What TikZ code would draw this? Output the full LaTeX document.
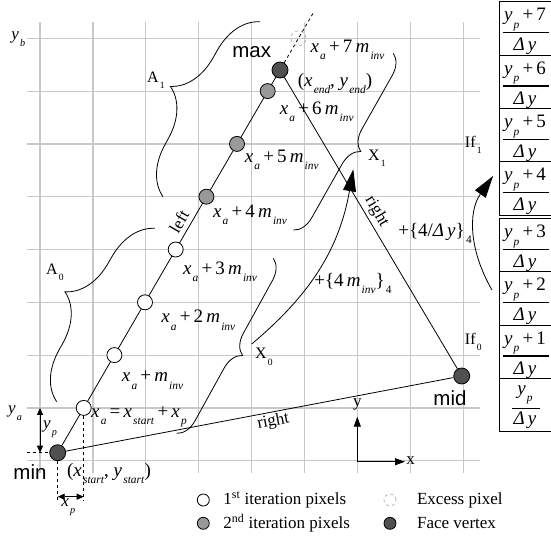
\documentclass[tikz,border=0pt]{standalone}
\usepackage{fontspec}
\setmainfont{Liberation Serif}
\setsansfont{Liberation Sans}
\usepackage{graphicx}
\usepackage{tikz}
\usetikzlibrary{arrows.meta,decorations.pathreplacing,calc}
\usepackage{xcolor}
\definecolor{GridGray}{HTML}{C8C8C8}
\definecolor{PixGray}{HTML}{999999}
\definecolor{VtxGray}{HTML}{505050}
\definecolor{ExcGray}{HTML}{B4B4B4}
\newcommand\li[1]{\kern1.2pt\raisebox{-.4em}{\scalebox{.6}{\textit{#1}}}}
\newcommand\lo[1]{\kern1.2pt\raisebox{-.4em}{\scalebox{.6}{#1}}}

\begin{document}
\begin{tikzpicture}[x=1pt,y=-1pt,line width=0.8pt,every node/.style={inner sep=0pt,font=\fontsize{19}{19}\selectfont},
    pix/.style={circle,draw,line width=0.8pt,minimum size=15pt},
    vtx/.style={pix,fill=VtxGray,minimum size=16pt},
    lgd/.style={pix,minimum size=12pt},
    small/.style={font=\fontsize{16}{16}\selectfont},
    legend/.style={font=\fontsize{17}{17}\selectfont,anchor=west},
    mid/.style={font=\fontsize{17}{17}\selectfont},
    sans/.style={font=\fontsize{20.5}{20.5}\selectfont\sffamily},
    brc/.style={decorate,decoration={brace,amplitude=#1}},
    bigarr/.style={-{Triangle[length=22pt,width=13pt]}},
    smallarr/.style={-{Triangle[length=10pt,width=7pt]}},
    dimarr/.style={{Triangle[length=7pt,width=6pt]}-{Triangle[length=7pt,width=6pt]}}]
    \useasboundingbox (0,0) rectangle (551,549);
    \foreach \i in {0,...,8}{\draw[GridGray,line width=1.2pt] (40+52.9*\i,22) -- (40+52.9*\i,473);
      \draw[GridGray,line width=1.2pt] (27,38.3+52.8*\i) -- (480,38.3+52.8*\i);}
    \node[vtx] (min) at (57.7,452.7) {};
    \node[vtx] (max) at (280,70) {};
    \node[vtx] (mid) at (461.7,376) {};
    \coordinate (top) at (313.5,12.5);
    \draw (min) -- (max) -- (mid) -- (min);
    \draw[dashed] (max) -- (top);
    \foreach \k/\px/\py in {1/83.7/407.9,2/114.4/355.1,3/145/302.3,4/175.7/249.5}{\node[pix,fill=white] (p\k) at (\px,\py) {};}
    \foreach \k/\px/\py in {5/206.4/196.7,6/237/143.9,7/267.7/91.1}{\node[pix,fill=PixGray] (p\k) at (\px,\py) {};}
    \node[pix,dashed,draw=ExcGray] (ex) at (298.4,38.3) {};
    \node[sans] (lmax) at (251.7,51.7) {max};
    \node[sans] (lmin) at (30,471.7) {min};
    \node[sans] (lmid) at (450,398.3) {mid};
    \coordinate (ya) at (26.7,452.7);
    \coordinate (yp1) at (40,407.9);
    \coordinate (yp0) at (40,452.7);
    \coordinate (xs0) at (57.7,500);
    \coordinate (xs1) at (83.7,500);
    \coordinate (xp0) at (57.7,496.7);
    \coordinate (xp1) at (83.7,496.7);
    \draw[dashed,line width=0.6pt] (ya) -- (min);
    \draw[dashed,line width=0.6pt] (min) -- (xs0);
    \draw[dashed,line width=0.6pt] (p1) -- (xs1);
    \draw[dimarr] (yp1) -- (yp0);
    \draw[dimarr] (xp0) -- (xp1);
    \node[mid] (lyb) at (18.3,39.5) {\textit{y}\li{b}};
    \node[mid] (lya) at (15,413) {\textit{y}\li{a}};
    \node[mid] (lyp) at (50,429) {\textit{y}\li{p}};
    \node[mid] (lxp) at (68.3,507) {\textit{x}\li{p}};
    \node (l7) at (347.5,50) {\textit{x}\li{a}\,+\,7\,\textit{m}\li{inv}};
    \node (lend) at (335,83.3) {(\textit{x}\li{end}, \textit{y}\li{end})};
    \node (l6) at (316.7,111.7) {\textit{x}\li{a}\,+\,6\,\textit{m}\li{inv}};
    \node (l5) at (281.7,160) {\textit{x}\li{a}\,+\,5\,\textit{m}\li{inv}};
    \node (l4) at (250,215) {\textit{x}\li{a}\,+\,4\,\textit{m}\li{inv}};
    \node (l3) at (220,271.7) {\textit{x}\li{a}\,+\,3\,\textit{m}\li{inv}};
    \node (l2) at (198.3,320) {\textit{x}\li{a}\,+\,2\,\textit{m}\li{inv}};
    \node (l1) at (152.5,380) {\textit{x}\li{a}\,+\,\textit{m}\li{inv}};
    \node (l0) at (139,416.7) {\textit{x}\li{a}\,=\,\textit{x}\li{start}\,+\,\textit{x}\li{p}};
    \node (lstart) at (109,473.3) {(\textit{x}\li{start}, \textit{y}\li{start})};
    \node[mid,rotate=59.85] (lleft) at (179,221.7) {left};
    \node[mid,rotate=-59.3] (lright) at (376.7,211.7) {right};
    \node[mid,rotate=10.75] (lbottom) at (273.3,421.7) {right};
    \coordinate (a1s) at (163,196.7);
    \coordinate (a1e) at (260,21.7);
    \coordinate (a0s) at (56.7,401.7);
    \coordinate (a0e) at (155,228.3);
    \coordinate (x1s) at (393.3,53.3);
    \coordinate (x1e) at (293.3,230);
    \coordinate (x0s) at (273.3,258.3);
    \coordinate (x0e) at (176.7,433.3);
    \draw[brc=47pt] (a1s) -- (a1e);
    \draw[brc=47pt] (a0s) -- (a0e);
    \draw[brc=20pt] (x1s) -- (x1e);
    \draw[brc=20pt] (x0s) -- (x0e);
    \node[small] (la1) at (156,80) {A\lo{1}};
    \node[small] (la0) at (55,272) {A\lo{0}};
    \node[small] (lx1) at (377,158.3) {X\lo{1}};
    \node[small] (lx0) at (264,356.7) {X\lo{0}};
    \coordinate (x0a) at (251.7,344);
    \coordinate (x1a) at (353.3,169.3);
    \draw[bigarr] (x0a) to[out=40,in=-100] (x1a);
    \node (lstep) at (353,283.3) {+\{4\,\textit{m}\li{inv}\}\lo{4}};
    \coordinate (if0) at (492,290);
    \coordinate (if1) at (493,176);
    \draw[bigarr] (if0) to[out=120,in=-125] (if1);
    \node (ldy) at (435,233.3) {+\{4/\textit{Δ\,y}\}\lo{4}};
    \node[small] (lif1) at (473.3,145) {If\lo{1}};
    \node[small] (lif0) at (473.3,341.7) {If\lo{0}};
    \coordinate (o) at (357.3,461.7);
    \coordinate (ax) at (405,461.7);
    \coordinate (ay) at (357.3,416.7);
    \draw[smallarr] (o) -- (ax);
    \draw[smallarr] (o) -- (ay);
    \node[mid] (lx) at (410.7,461) {x};
    \node[mid] (ly) at (357.3,404) {y};
    \foreach \k/\yt in {7/1.7,6/55,5/108.3,4/161.7,3/218.3,2/271.7,1/325}{\draw (499.5,\yt) rectangle (560,\yt+53.3);
      \node (n\k) at (525,\yt+18) {\textit{y}\li{p}\,+\,\k};
      \draw[line width=1.2pt] (503,\yt+31) -- (549,\yt+31);
      \node (d\k) at (525,\yt+45) {\textit{Δ\,y}};}
    \draw (499.5,378.3) rectangle (560,431.7);
    \node (n0) at (525,395) {\textit{y}\li{p}};
    \draw[line width=1.2pt] (511.7,408.3) -- (540,408.3);
    \node (d0) at (525,420) {\textit{Δ\,y}};
    \node[lgd,fill=white] (g1) at (203.3,500) {};
    \node[legend] (t1) at (223,500) {1\textsuperscript{st} iteration pixels};
    \node[lgd,fill=PixGray] (g2) at (203.3,523.3) {};
    \node[legend] (t2) at (223,523.3) {2\textsuperscript{nd} iteration pixels};
    \node[lgd,dashed,draw=ExcGray] (g3) at (390,500) {};
    \node[legend] (t3) at (416.7,500) {Excess pixel};
    \node[lgd,fill=VtxGray] (g4) at (390,523.3) {};
    \node[legend] (t4) at (416.7,523.3) {Face vertex};
  \end{tikzpicture}
\end{document}
